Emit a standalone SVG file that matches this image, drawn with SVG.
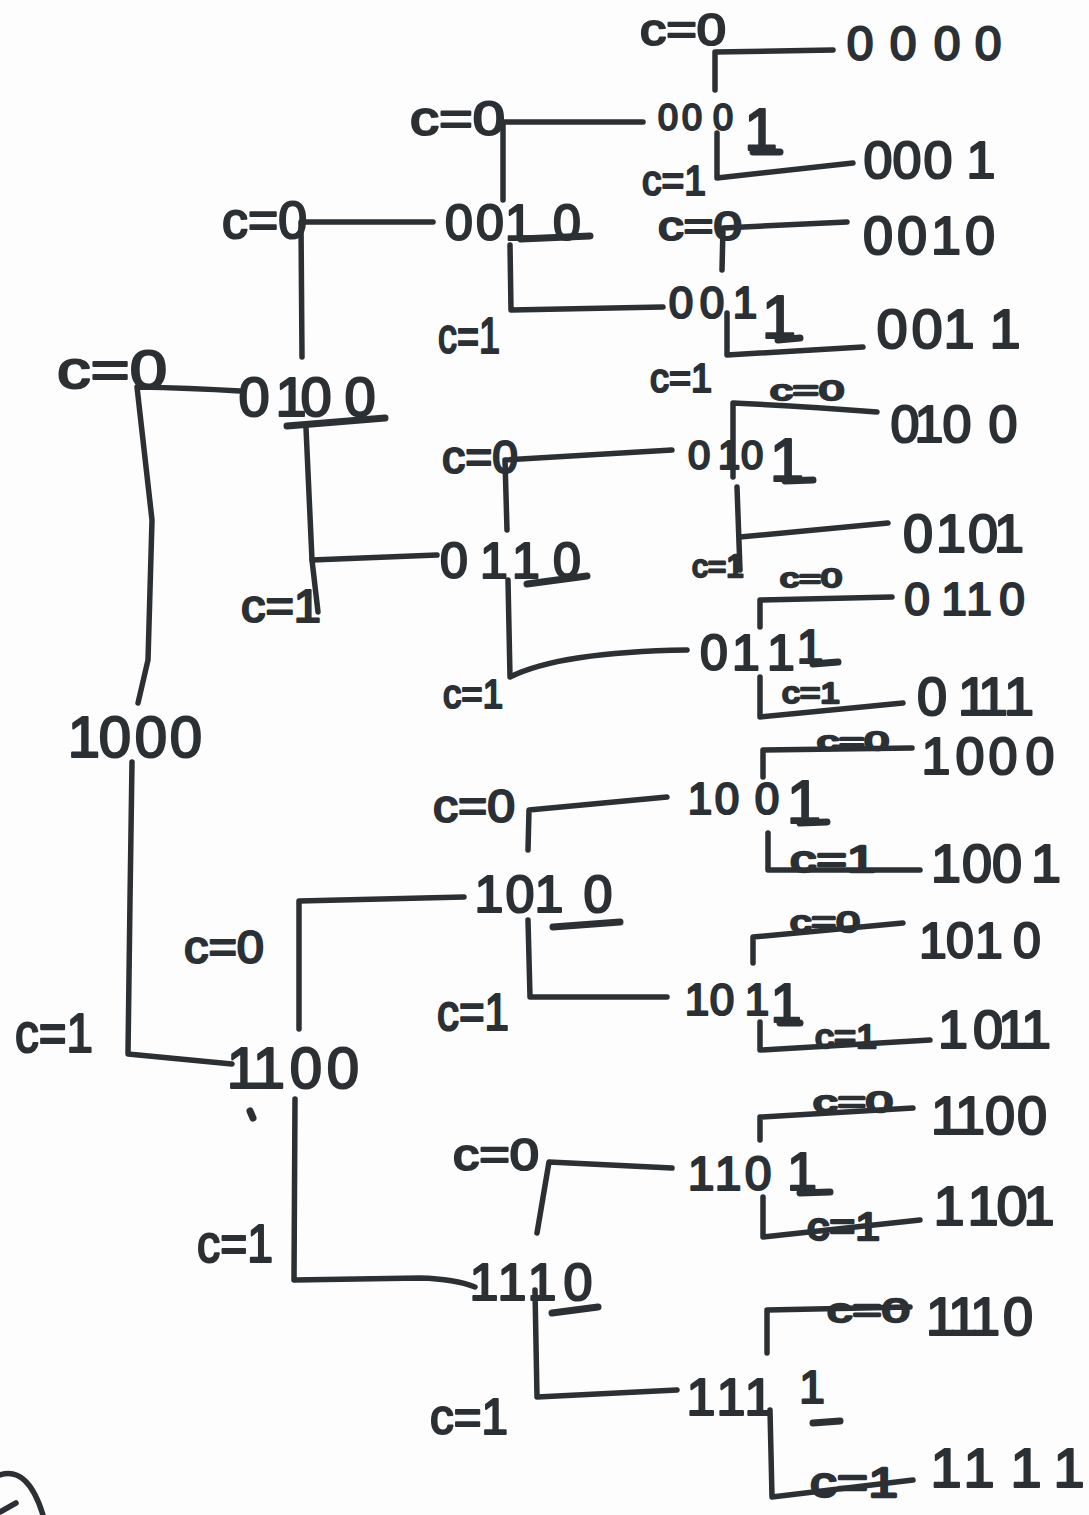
<svg xmlns="http://www.w3.org/2000/svg" width="1089" height="1515" viewBox="0 0 1089 1515">
  <style>
    .ln { fill: none; stroke: #2b3035; stroke-width: 5.5; stroke-linecap: round; stroke-linejoin: round; }
    .ul { fill: none; stroke: #2b3035; stroke-width: 7; stroke-linecap: round; }
    .d  { font-family: "Liberation Sans", Arial, sans-serif; fill: #2b3035; stroke: #2b3035; stroke-width: 2.2; stroke-linejoin: round; text-anchor: middle; }
    .c  { font-family: "Liberation Sans", Arial, sans-serif; fill: #2b3035; stroke: #2b3035; stroke-width: 2.2; stroke-linejoin: round; }
    .cs { font-family: "Liberation Sans", Arial, sans-serif; fill: #2b3035; stroke: #2b3035; stroke-width: 2.4; stroke-linejoin: round; }
  </style>
  <rect width="1089" height="1515" fill="#fdfdfd"/>

  <!-- branch connectors -->
  <g id="connectors">
    <!-- root -->
    <path class="ln" d="M240 391 Q190 388 137 387 L152 520 L148 660 L138 703"/>
    <path class="ln" d="M132 762 L130 900 L128 1054 L232 1064"/>
    <!-- 0100 -->
    <path class="ln" d="M302 357 L301 222 L433 222"/>
    <path class="ln" d="M306 428 L312 560 L318 612"/>
    <path class="ln" d="M312 560 L437 555"/>
    <!-- 1100 -->
    <path class="ln" d="M299 1029 L299 901 L464 897"/>
    <path class="ln" d="M295 1099 L294 1280 L420 1278 Q455 1279 475 1287"/>
    <!-- 0010 -->
    <path class="ln" d="M503 200 L503 122 L643 122"/>
    <path class="ln" d="M510 245 L511 310 L663 307"/>
    <!-- 0110 -->
    <path class="ln" d="M507 530 L505 460 L672 450"/>
    <path class="ln" d="M508 580 L510 677 Q560 652 687 650"/>
    <!-- 1010 -->
    <path class="ln" d="M528 850 L529 810 L667 797"/>
    <path class="ln" d="M528 920 L530 997 L667 997"/>
    <!-- 1110 -->
    <path class="ln" d="M537 1233 L549 1162 L672 1168"/>
    <path class="ln" d="M535 1290 L537 1397 L677 1390"/>
    <!-- 0001 -->
    <path class="ln" d="M715 90 L715 52 L833 50"/>
    <path class="ln" d="M717 133 L717 178 L853 163"/>
    <!-- 0011 -->
    <path class="ln" d="M722 270 L723 228 L847 222"/>
    <path class="ln" d="M727 313 L727 355 L863 347"/>
    <!-- 0101 -->
    <path class="ln" d="M733 477 L733 403 Q800 406 877 412"/>
    <path class="ln" d="M737 487 L740 570"/>
    <path class="ln" d="M740 537 L888 523"/>
    <!-- 0111 -->
    <path class="ln" d="M760 627 L760 600 L892 597"/>
    <path class="ln" d="M760 677 L760 717 L903 703"/>
    <!-- 1001 -->
    <path class="ln" d="M763 777 L763 750 L912 748"/>
    <path class="ln" d="M768 833 L768 870 L920 870"/>
    <!-- 1011 -->
    <path class="ln" d="M753 963 L753 937 L903 923"/>
    <path class="ln" d="M760 1022 L760 1050 L930 1040"/>
    <!-- 1101 -->
    <path class="ln" d="M760 1140 L760 1117 L913 1108"/>
    <path class="ln" d="M763 1197 L763 1237 L920 1220"/>
    <!-- 1111 -->
    <path class="ln" d="M767 1353 L767 1310 L910 1307"/>
    <path class="ln" d="M770 1410 L772 1497 L913 1480"/>
  </g>

  <!-- branch conditions -->
  <g id="conditions">
    <text class="c" x="57" y="388" font-size="54" textLength="110" lengthAdjust="spacingAndGlyphs">c=0</text>
    <text class="c" x="15" y="1052" font-size="56" textLength="78" lengthAdjust="spacingAndGlyphs">c=1</text>
    <text class="c" x="222" y="238" font-size="52" textLength="85" lengthAdjust="spacingAndGlyphs">c=0</text>
    <text class="c" x="241" y="622" font-size="46" textLength="80" lengthAdjust="spacingAndGlyphs">c=1</text>
    <text class="c" x="184" y="963" font-size="46" textLength="80" lengthAdjust="spacingAndGlyphs">c=0</text>
    <text class="c" x="197" y="1262" font-size="54" textLength="76" lengthAdjust="spacingAndGlyphs">c=1</text>
    <text class="c" x="410" y="135" font-size="48" textLength="95" lengthAdjust="spacingAndGlyphs">c=0</text>
    <text class="c" x="438" y="353" font-size="50" textLength="62" lengthAdjust="spacingAndGlyphs">c=1</text>
    <text class="c" x="442" y="473" font-size="46" textLength="76" lengthAdjust="spacingAndGlyphs">c=0</text>
    <text class="c" x="443" y="708" font-size="40" textLength="60" lengthAdjust="spacingAndGlyphs">c=1</text>
    <text class="c" x="433" y="822" font-size="46" textLength="82" lengthAdjust="spacingAndGlyphs">c=0</text>
    <text class="c" x="437" y="1030" font-size="52" textLength="72" lengthAdjust="spacingAndGlyphs">c=1</text>
    <text class="c" x="453" y="1170" font-size="44" textLength="86" lengthAdjust="spacingAndGlyphs">c=0</text>
    <text class="c" x="430" y="1434" font-size="50" textLength="78" lengthAdjust="spacingAndGlyphs">c=1</text>

    <text class="c" x="640" y="45" font-size="44" textLength="86" lengthAdjust="spacingAndGlyphs">c=0</text>
    <text class="c" x="642" y="195" font-size="42" textLength="64" lengthAdjust="spacingAndGlyphs">c=1</text>
    <text class="c" x="658" y="240" font-size="40" textLength="84" lengthAdjust="spacingAndGlyphs">c=0</text>
    <text class="c" x="650" y="392" font-size="40" textLength="62" lengthAdjust="spacingAndGlyphs">c=1</text>
    <text class="cs" x="770" y="400" font-size="28" textLength="74" lengthAdjust="spacingAndGlyphs">c=0</text>
    <text class="cs" x="692" y="577" font-size="32" textLength="52" lengthAdjust="spacingAndGlyphs">c=1</text>
    <text class="cs" x="780" y="587" font-size="26" textLength="62" lengthAdjust="spacingAndGlyphs">c=0</text>
    <text class="cs" x="782" y="703" font-size="30" textLength="58" lengthAdjust="spacingAndGlyphs">c=1</text>
    <text class="cs" x="817" y="750" font-size="26" textLength="72" lengthAdjust="spacingAndGlyphs">c=0</text>
    <text class="cs" x="790" y="872" font-size="36" textLength="86" lengthAdjust="spacingAndGlyphs">c=1</text>
    <text class="cs" x="790" y="932" font-size="30" textLength="70" lengthAdjust="spacingAndGlyphs">c=0</text>
    <text class="cs" x="815" y="1048" font-size="34" textLength="62" lengthAdjust="spacingAndGlyphs">c=1</text>
    <text class="cs" x="813" y="1112" font-size="30" textLength="80" lengthAdjust="spacingAndGlyphs">c=0</text>
    <text class="cs" x="807" y="1240" font-size="38" textLength="73" lengthAdjust="spacingAndGlyphs">c=1</text>
    <text class="cs" x="827" y="1322" font-size="34" textLength="83" lengthAdjust="spacingAndGlyphs">c=0</text>
    <text class="cs" x="810" y="1497" font-size="42" textLength="88" lengthAdjust="spacingAndGlyphs">c=1</text>
  </g>

  <!-- level 0 -->
  <g id="node-1000">
    <text class="d" font-size="58" x="84 115 151 186" y="757">1000</text>
  </g>

  <!-- level 1 -->
  <g id="node-0100">
    <text class="d" font-size="56" x="254 291 316 360" y="416">0100</text>
    <path class="ul" d="M287 426 L385 418"/>
  </g>
  <g id="node-1100">
    <text class="d" font-size="58" x="243 269 306 343" y="1088">1100</text>
    <path class="ul" d="M250 1111 L253 1118"/>
  </g>

  <!-- level 2 -->
  <g id="node-0010">
    <text class="d" font-size="50" x="459 490 519 567" y="240">0010</text>
    <path class="ul" d="M521 239 L590 236"/>
  </g>
  <g id="node-0110">
    <text class="d" font-size="50" x="454 494 526 567" y="578">0110</text>
    <path class="ul" d="M527 584 L587 576"/>
  </g>
  <g id="node-1010">
    <text class="d" font-size="52" x="489 520 549 598" y="912">1010</text>
    <path class="ul" d="M553 927 L620 922"/>
  </g>
  <g id="node-1110">
    <text class="d" font-size="52" x="484 512 542 578" y="1300">1110</text>
    <path class="ul" d="M552 1313 L598 1307"/>
  </g>

  <!-- level 3 -->
  <g id="node-0001">
    <text class="d" font-size="36"><tspan x="668 692 723" y="130">000</tspan><tspan x="761" y="150" font-size="60">1</tspan></text>
    <path class="ul" d="M753 152 L780 152"/>
  </g>
  <g id="node-0011">
    <text class="d" font-size="44"><tspan x="681 712 745" y="318">001</tspan><tspan x="779" y="338" font-size="62">1</tspan></text>
    <path class="ul" d="M778 340 L800 338"/>
  </g>
  <g id="node-0101">
    <text class="d" font-size="40"><tspan x="699 729 752" y="469">010</tspan><tspan x="787" y="481" font-size="62">1</tspan></text>
    <path class="ul" d="M785 481 L813 480"/>
  </g>
  <g id="node-0111">
    <text class="d" font-size="50"><tspan x="714 746 781" y="670">011</tspan><tspan x="810" y="663" font-size="48">1</tspan></text>
    <path class="ul" d="M813 664 L838 662"/>
  </g>
  <g id="node-1001">
    <text class="d" font-size="44"><tspan x="700 727 767" y="814">100</tspan><tspan x="804" y="823" font-size="62">1</tspan></text>
    <path class="ul" d="M800 823 L827 822"/>
  </g>
  <g id="node-1011">
    <text class="d" font-size="44"><tspan x="697 722 757" y="1015">101</tspan><tspan x="786" y="1022" font-size="56">1</tspan></text>
    <path class="ul" d="M780 1023 L800 1023"/>
  </g>
  <g id="node-1101">
    <text class="d" font-size="48"><tspan x="701 728 758" y="1190">110</tspan><tspan x="802" y="1190" font-size="54">1</tspan></text>
    <path class="ul" d="M800 1193 L830 1192"/>
  </g>
  <g id="node-1111">
    <text class="d" font-size="52"><tspan x="701 731 759" y="1415">111</tspan><tspan x="812" y="1403" font-size="46">1</tspan></text>
    <path class="ul" d="M813 1423 L840 1421"/>
  </g>

  <!-- results -->
  <g id="leaf-0000"><text class="d" font-size="48" x="860 903 947 988" y="60">0000</text></g>
  <g id="leaf-0001"><text class="d" font-size="52" x="878 907 938 981" y="178">0001</text></g>
  <g id="leaf-0010"><text class="d" font-size="54" x="878 912 946 980" y="254">0010</text></g>
  <g id="leaf-0011"><text class="d" font-size="56" x="892 927 959 1005" y="348">0011</text></g>
  <g id="leaf-0100"><text class="d" font-size="52" x="905 929 957 1003" y="442">0100</text></g>
  <g id="leaf-0101"><text class="d" font-size="54" x="918 951 983 1009" y="552">0101</text></g>
  <g id="leaf-0110"><text class="d" font-size="46" x="917 954 979 1012" y="615">0110</text></g>
  <g id="leaf-0111"><text class="d" font-size="54" x="932 973 993 1019" y="715">0111</text></g>
  <g id="leaf-1000"><text class="d" font-size="52" x="936 970 1003 1040" y="774">1000</text></g>
  <g id="leaf-1001"><text class="d" font-size="54" x="946 977 1007 1046" y="882">1001</text></g>
  <g id="leaf-1010"><text class="d" font-size="50" x="933 960 989 1027" y="958">1010</text></g>
  <g id="leaf-1011"><text class="d" font-size="54" x="953 988 1013 1036" y="1048">1011</text></g>
  <g id="leaf-1100"><text class="d" font-size="54" x="946 970 1000 1032" y="1134">1100</text></g>
  <g id="leaf-1101"><text class="d" font-size="56" x="949 983 1012 1039" y="1225">1101</text></g>
  <g id="leaf-1110"><text class="d" font-size="54" x="941 963 985 1018" y="1335">1110</text></g>
  <g id="leaf-1111"><text class="d" font-size="56" x="946 979 1026 1069" y="1487">1111</text></g>

  <!-- circled mark at the lower page edge -->
  <path class="ln" d="M0 1475 Q28 1466 43 1515"/>
  <path class="ln" d="M0 1512 L16 1503"/>
</svg>
